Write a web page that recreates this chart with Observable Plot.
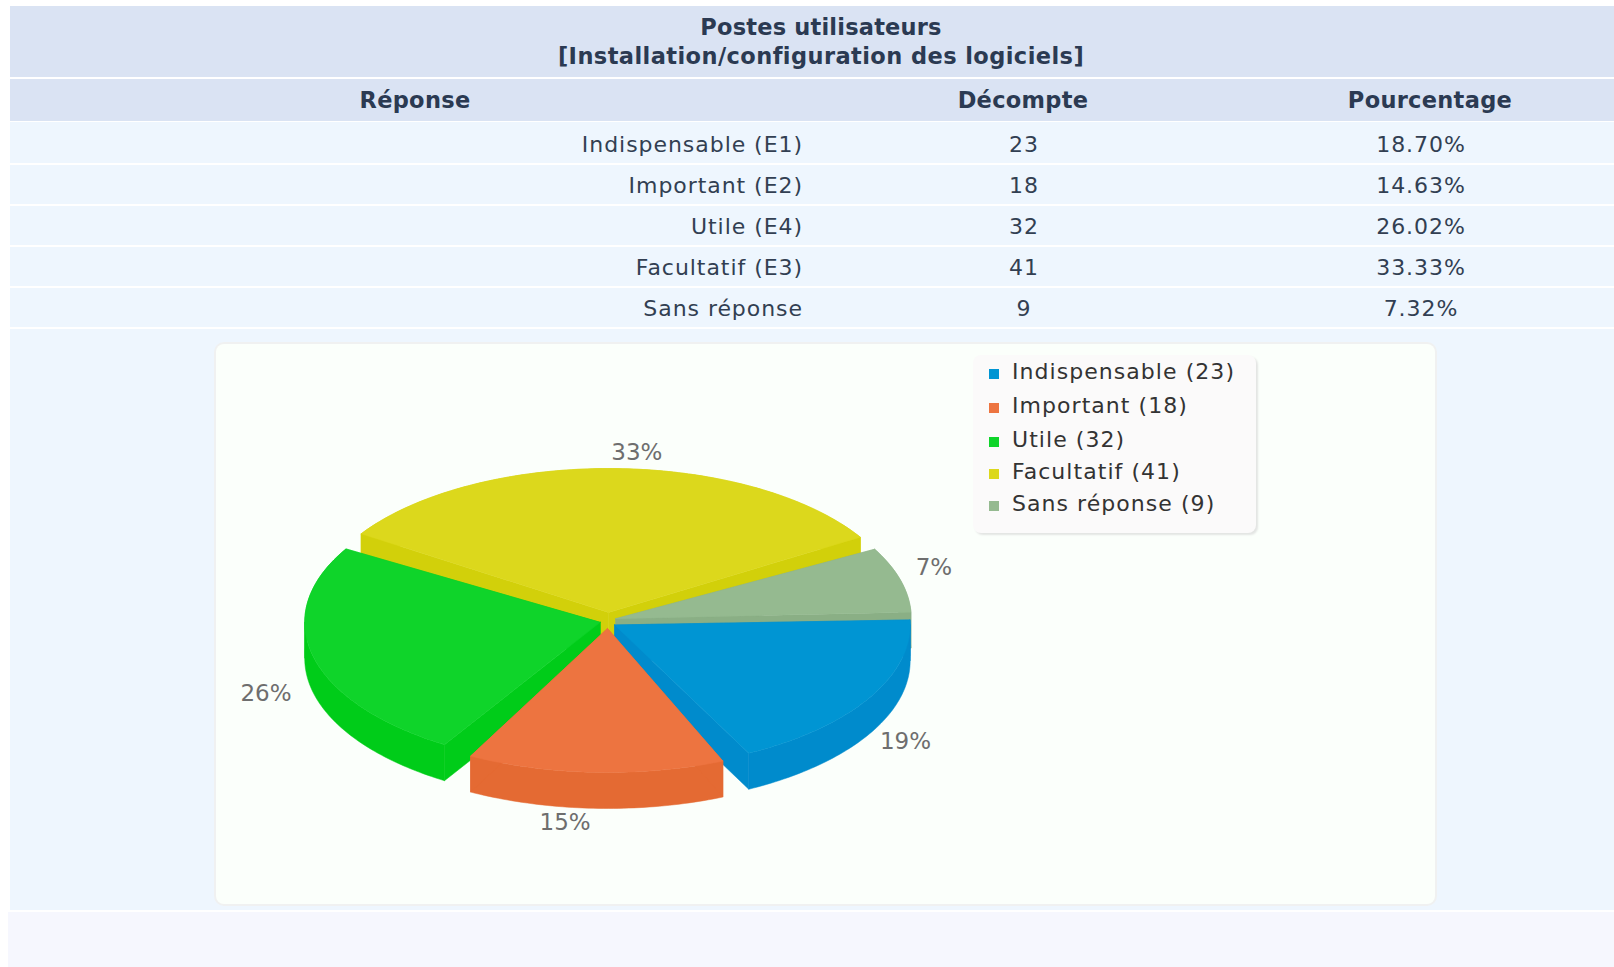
<!DOCTYPE html>
<html lang="fr">
<head>
<meta charset="utf-8">
<script src="https://cdn.jsdelivr.net/npm/d3@7"></script>
<script src="https://cdn.jsdelivr.net/npm/@observablehq/plot@0.6"></script>
<style>
html,body{margin:0;padding:0;background:#fff;width:1614px;height:967px;overflow:hidden;font-family:"DejaVu Sans",sans-serif}
.band{position:absolute;left:10px;right:0}
.cell{position:absolute;top:0;line-height:inherit;white-space:nowrap}
.h{background:#dae3f3;color:#2b3a52;font-weight:bold;font-size:22.5px}
.r{background:#eef6fe;color:#323f52;font-size:22px;letter-spacing:.95px}
#box{position:absolute;left:216px;top:344px;width:1219px;height:560px;background:#fbfffb;border-radius:8px;box-shadow:0 0 0 2px #f0f1f1}
#box svg{position:absolute;left:0;top:0;background:transparent}
#legend{position:absolute;left:757px;top:11px;width:283px;height:178px;background:#fbfafa;border-radius:8px;box-shadow:2px 2px 2px #e3e5e3}
.li{position:absolute;left:39px;font-size:22px;line-height:30px;color:#333;white-space:nowrap;letter-spacing:1.05px}
.sw{position:absolute;left:16px;width:10px;height:10px}
</style>
</head>
<body>
<div id="page"></div>
<script>
// Data
const titre = ["Postes utilisateurs", "[Installation/configuration des logiciels]"];
const entetes = ["Réponse", "Décompte", "Pourcentage"];
const reponses = ["Indispensable (E1)", "Important (E2)", "Utile (E4)", "Facultatif (E3)", "Sans réponse"];
const legendes = ["Indispensable", "Important", "Utile", "Facultatif", "Sans réponse"];
const decomptes = [23, 18, 32, 41, 9];
const pourcentages = ["18.70%", "14.63%", "26.02%", "33.33%", "7.32%"];
const etiquettes = ["19%", "15%", "26%", "33%", "7%"];
const couleursDessus = ["#0095d3", "#ed7440", "#0fd42a", "#dcd81c", "#95ba90"];
const couleursCote = ["#008bcc", "#e46a33", "#00cc19", "#d2d00a", "#8aaf85"];

// Page layout
const page = document.getElementById("page");
function band(top, height, cls, style) {
  const d = document.createElement("div");
  d.className = "band " + cls;
  d.style.top = top + "px"; d.style.height = height + "px"; d.style.lineHeight = height + "px";
  if (style) Object.assign(d.style, style);
  page.appendChild(d);
  return d;
}
function cell(parent, text, left, width, align, top) {
  const s = document.createElement("div");
  s.className = "cell"; s.textContent = text;
  s.style.left = (left - 10) + "px"; s.style.width = width + "px"; s.style.textAlign = align;
  if (top) s.style.top = top + "px";
  parent.appendChild(s);
  return s;
}
const t = band(6, 71, "h");
t.style.lineHeight = "28px";
cell(t, titre[0], 321, 1000, "center", 7).style.letterSpacing = ".2px";
cell(t, titre[1], 321, 1000, "center", 36).style.letterSpacing = ".42px";
const th = band(79, 42, "h", {letterSpacing: ".3px"});
cell(th, entetes[0], 215, 400, "center");
cell(th, entetes[1], 823, 400, "center");
cell(th, entetes[2], 1230, 400, "center");
const rowTops = [122, 165, 206, 247, 288], rowH = [41, 39, 39, 39, 39], rowShift = [2, 1, 1, 1, 1];
reponses.forEach((r, i) => {
  const b = band(rowTops[i], rowH[i], "r");
  cell(b, r, 203, 600, "right", rowShift[i]);
  cell(b, String(decomptes[i]), 824, 400, "center", rowShift[i]);
  cell(b, pourcentages[i], 1221, 400, "center", rowShift[i]);
});
band(329, 581, "r");
band(912, 55, "", {left: "8px", background: "#f6f7fe"});

const box = document.createElement("div");
box.id = "box";
page.appendChild(box);

// Pie geometry, derived from the counts
const W = 1219, H = 560;
const cx = 391.5, cy = 276, rx = 295.5, ry = 144, depth = 36, explode = 8;
const total = d3.sum(decomptes);
const cum = d3.cumsum(decomptes);
const rad = Math.PI / 180;
// small drawing drift of the source renderer at each slice's start and end, degrees
const driftStart = [-2, -0.3, 1.8, -0.5, -2.5];
const driftEnd = [-4.3, -2.4, -3, -5.2, -2.6];
const slices = legendes.map((name, i) => {
  const a0 = (cum[i] - decomptes[i]) / total * 360 + driftStart[i];
  const a1 = cum[i] / total * 360 + driftEnd[i];
  const mid = (cum[i] - decomptes[i] / 2) / total * 2 * Math.PI;
  const ox = cx + explode * Math.cos(mid), oy = cy + explode * Math.sin(mid);
  const at = a => ({a, x: ox + rx * Math.cos(a * rad), y: oy + ry * Math.sin(a * rad)});
  const n = Math.max(2, Math.ceil(a1 - a0));
  // sample the rim, always including the left and right extremes of the ellipse
  const extremes = [0, 180, 360].filter(e => e > a0 && e < a1);
  const angles = d3.sort([...d3.range(n + 1).map(k => a0 + (a1 - a0) * k / n), ...extremes]);
  const arc = angles.map(at);
  // split the rim at the extremes so each wall band is a simple polygon
  const cuts = [a0, ...extremes, a1];
  const pieces = d3.pairs(cuts).map(([u, v]) => arc.filter(p => p.a >= u && p.a <= v));
  return {name, i, arc, pieces, tip: {x: ox, y: oy}, mid};
});
const down = p => ({x: p.x, y: p.y + depth});
function topRows(s) {
  return [s.tip, ...s.arc, s.tip].map(p => ({...p, key: s.name + " dessus"}));
}
function wallRows(s) {
  const first = s.arc[0], last = s.arc[s.arc.length - 1];
  const rims = s.pieces.map(a => [...a, ...a.slice().reverse().map(down), a[0]]);
  const wallA = [s.tip, first, down(first), down(s.tip), s.tip];
  const wallB = [s.tip, last, down(last), down(s.tip), s.tip];
  const key = s.name + " côté";
  return [...rims, wallA, wallB].flatMap((pts, q) => pts.map(p => ({x: p.x, y: p.y, q, key})));
}
const colorDomain = legendes.flatMap(n => [n + " dessus", n + " côté"]);
const colorRange = couleursDessus.flatMap((c, i) => [c, couleursCote[i]]);
const paintOrder = [3, 4, 0, 2, 1];
const marks = paintOrder.flatMap(i => {
  const s = slices[i];
  return [
    Plot.line(wallRows(s), {x: "x", y: "y", z: "q", fill: "key", stroke: "key", strokeWidth: 0.5, curve: "linear"}),
    Plot.line(topRows(s), {x: "x", y: "y", fill: "key", stroke: "key", strokeWidth: 0.5, curve: "linear"})
  ];
});

// Percent labels, placed around the pie from each slice's mid angle
const labelNudge = [[20, 1], [-13, 0], [0, 13], [15, -1], [0, -29]];
const labelRows = slices.map((s, i) => ({
  x: cx - 8 + 343 * Math.cos(s.mid) + labelNudge[i][0],
  y: cy + 18 + 185 * Math.sin(s.mid) + labelNudge[i][1],
  text: etiquettes[i]
}));
marks.push(Plot.text(labelRows, {x: "x", y: "y", text: "text", fontSize: 23, fill: "#6e6e6e", fontFamily: "DejaVu Sans", textAnchor: "middle"}));

const svg = Plot.plot({
  width: W, height: H,
  margin: 0,
  x: {domain: [0, W], range: [0, W], axis: null},
  y: {domain: [0, H], range: [0, H], axis: null},
  color: {type: "ordinal", domain: colorDomain, range: colorRange, legend: false},
  style: {background: "transparent", overflow: "visible"},
  marks
});
box.appendChild(svg);

// Legend
const leg = document.createElement("div");
leg.id = "legend";
box.appendChild(leg);
const legY = [19, 53, 87, 119, 151];
legendes.forEach((n, i) => {
  const sw = document.createElement("div");
  sw.className = "sw"; sw.style.top = (legY[i] - 5) + "px"; sw.style.background = couleursDessus[i];
  leg.appendChild(sw);
  const li = document.createElement("div");
  li.className = "li"; li.style.top = (legY[i] - 17) + "px";
  li.textContent = `${n} (${decomptes[i]})`;
  leg.appendChild(li);
});
</script>
</body>
</html>
